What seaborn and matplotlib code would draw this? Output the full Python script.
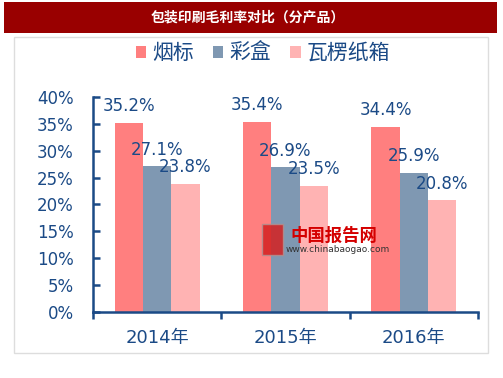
import numpy as np
import pandas as pd
import matplotlib.pyplot as plt
import matplotlib.patches as mpatches
import seaborn as sns

# 数据
anos = ['2014年', '2015年', '2016年']
produtos = ['烟标', '彩盒', '瓦楞纸箱']
yanbiao = [35.2, 35.4, 34.4]
caihe = [27.1, 26.9, 25.9]
walengzhixiang = [23.8, 23.5, 20.8]
yticks = [0, 5, 10, 15, 20, 25, 30, 35, 40]

cores = ['#FF7F7F', '#7F98B2', '#FFB3B3']
azul = '#1B4A86'

df = pd.DataFrame({
    'ano': anos * 3,
    'produto': [produtos[0]] * 3 + [produtos[1]] * 3 + [produtos[2]] * 3,
    'valor': yanbiao + caihe + walengzhixiang,
})

sns.set_style('white')
plt.rcParams['font.family'] = ['DejaVu Sans', 'Noto Sans CJK SC']

fig = plt.figure(figsize=(5.03, 3.78), dpi=100)

# faixa do título
fig.patches.append(mpatches.Rectangle((4 / 503, 1 - 33 / 378), 493 / 503, 31 / 378,
                                      transform=fig.transFigure, facecolor='#990000',
                                      edgecolor='none', zorder=0))
fig.text(248 / 503, 1 - 17 / 378, '包装印刷毛利率对比（分产品）', color='white',
         fontsize=10, fontweight='bold', ha='center', va='center',
         family=['Noto Sans CJK SC'])
# moldura interna
fig.patches.append(mpatches.Rectangle((14 / 503, 1 - 353 / 378), 474 / 503, 316 / 378,
                                      transform=fig.transFigure, facecolor='none',
                                      edgecolor='#DDDDDD', linewidth=1, zorder=0))

ax = fig.add_axes([93 / 503, 1 - 312 / 378, 385 / 503, 215 / 378])
sns.barplot(data=df, x='ano', y='valor', hue='produto', palette=cores,
            width=0.66, linewidth=0, saturation=1, ax=ax, legend=False)

for container in ax.containers:
    for barra in container:
        h = barra.get_height()
        ax.annotate(f'{h:.1f}%', (barra.get_x() + barra.get_width() / 2, h),
                    xytext=(0, 12), textcoords='offset points', ha='center', va='center',
                    fontsize=12, color=azul)

ax.set_xlim(-0.5, 2.5)
ax.set_ylim(0, 40)
ax.set_yticks(yticks)
ax.set_yticklabels([f'{v}%' for v in yticks])
ax.set_xticks([-0.5, 0.5, 1.5, 2.5])
ax.set_xticklabels([])
ax.set_xticks(range(len(anos)), minor=True)
ax.set_xticklabels(anos, minor=True)
ax.set_xlabel('')
ax.set_ylabel('')

ax.tick_params(axis='y', direction='in', length=5, width=1.8, color=azul,
               labelcolor=azul, labelsize=12, pad=14, left=True)
ax.tick_params(axis='x', which='major', direction='out', length=5, width=1.8,
               color=azul, bottom=True)
ax.tick_params(axis='x', which='minor', length=0, labelcolor=azul, labelsize=13, pad=12)

for lado in ['top', 'right']:
    ax.spines[lado].set_visible(False)
for lado in ['left', 'bottom']:
    ax.spines[lado].set_color(azul)
    ax.spines[lado].set_linewidth(1.8)

# legenda
handles = [mpatches.Patch(facecolor=c, edgecolor='none', label=p) for c, p in zip(cores, produtos)]
leg = fig.legend(handles=handles, loc='center', bbox_to_anchor=(263 / 503, 1 - 53 / 378),
                 ncol=3, frameon=False, fontsize=15, handlelength=0.5, handleheight=0.5,
                 handletextpad=0.3, columnspacing=0.9, borderpad=0)
for t in leg.get_texts():
    t.set_color(azul)

# marca d'água
fig.patches.append(mpatches.Rectangle((262 / 503, 1 - 255 / 378), 21 / 503, 31 / 378,
                                      transform=fig.transFigure, facecolor='#D42020',
                                      edgecolor='#B09090', alpha=0.85, zorder=5))
fig.text(334 / 503, 1 - 236 / 378, '中国报告网', color='#D40000', fontsize=12.5,
         fontweight='bold', ha='center', va='center', family=['Noto Sans CJK SC'], zorder=6)
fig.text(338 / 503, 1 - 249 / 378, 'www.chinabaogao.com', color='#333333', fontsize=6.5,
         ha='center', va='center', zorder=6)

plt.savefig('out.png', dpi=100)
plt.close()
